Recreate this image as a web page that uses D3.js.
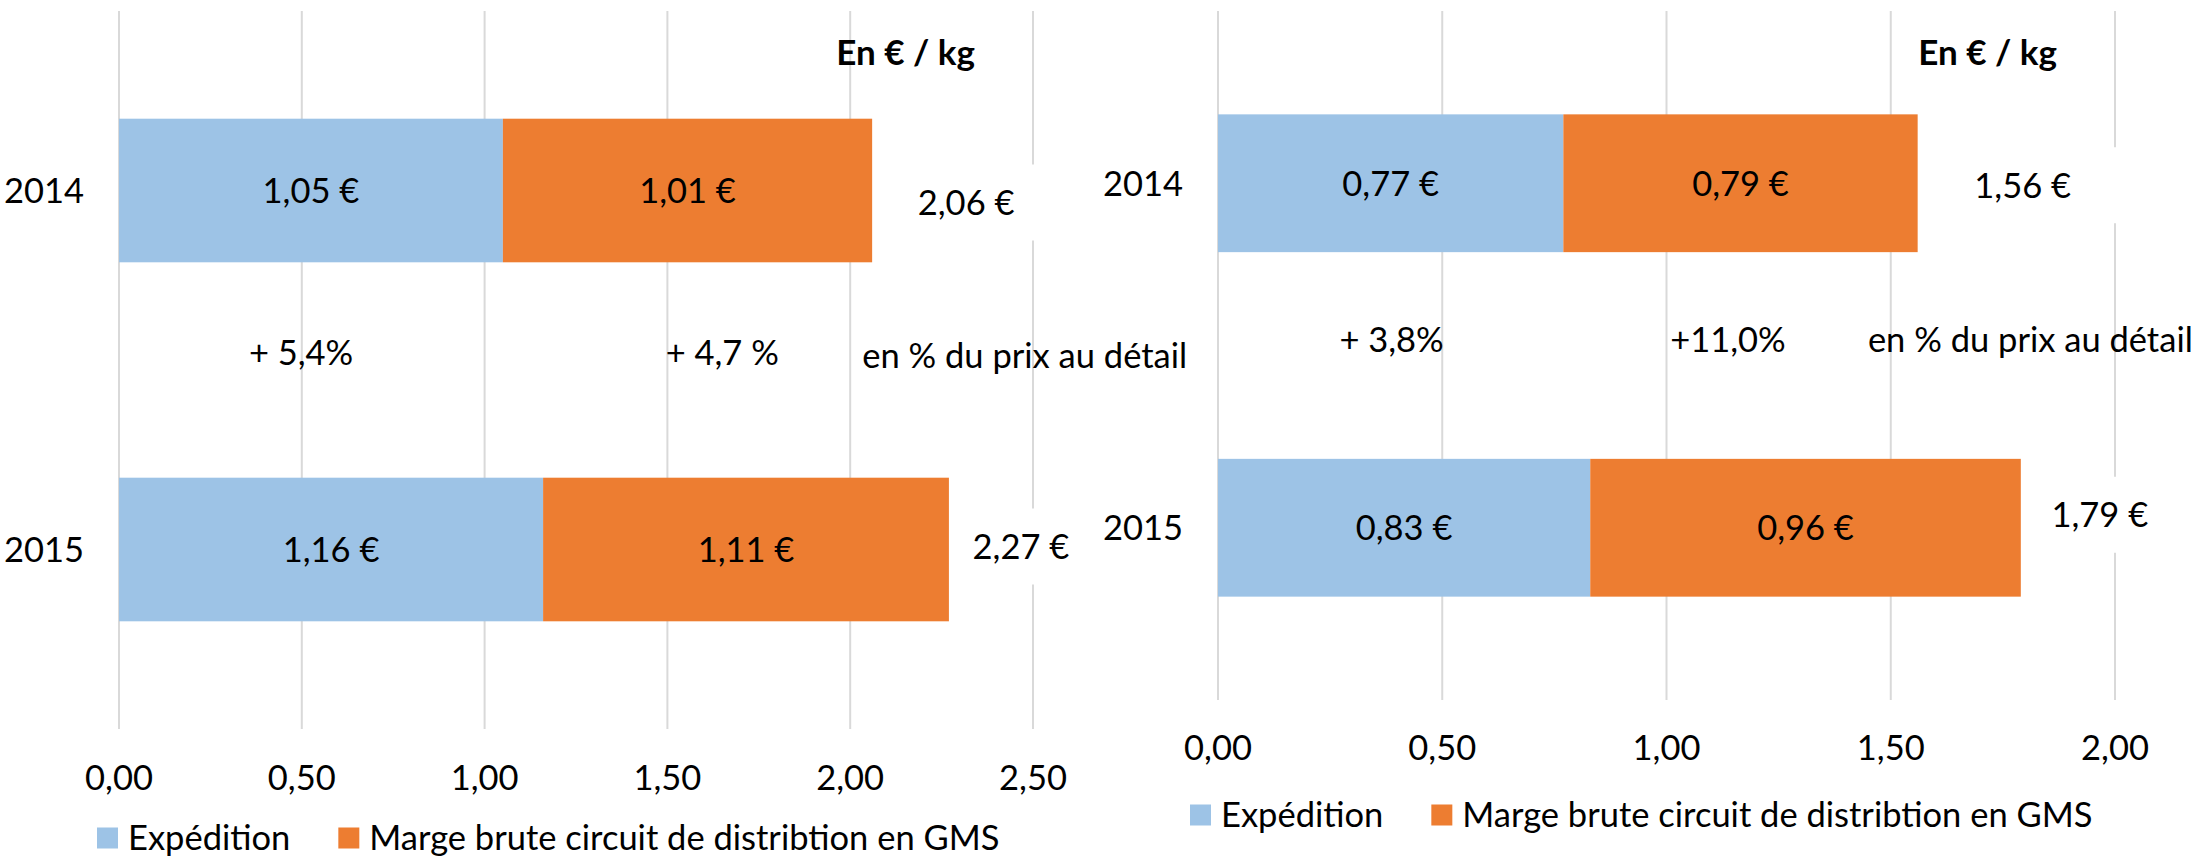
<!DOCTYPE html>
<html>
<head>
<meta charset="utf-8">
<script src="https://cdn.jsdelivr.net/npm/d3@7"></script>
<style>
  body { margin: 0; background: #fff; }
  text { font-family: Lato, sans-serif; fill: #000; }
</style>
</head>
<body>
<svg id="chart" width="2197" height="861"></svg>
<script>
// data
const years = ['2014', '2015'];
const seriesNames = ['Expédition', 'Marge brute circuit de distribtion en GMS'];

const leftExpedition = [1.05, 1.16];
const leftMarge = [1.01, 1.11];
const leftTotals = [2.06, 2.27];
const leftChanges = ['+ 5,4%', '+ 4,7 %'];
const leftTicks = [0, 0.5, 1, 1.5, 2, 2.5];

const rightExpedition = [0.77, 0.83];
const rightMarge = [0.79, 0.96];
const rightTotals = [1.56, 1.79];
const rightChanges = ['+ 3,8%', '+11,0%'];
const rightTicks = [0, 0.5, 1, 1.5, 2];

const unitLabel = 'En € / kg';
const noteLabel = 'en % du prix au détail';
const colors = ['#9dc3e6', '#ed7d31'];

const fr = d3.formatLocale({decimal: ',', thousands: ' ', grouping: [3], currency: ['', ' €']});
const tickFmt = fr.format('.2f');
const euro = v => tickFmt(v) + ' €';

const FS = 34.5;
const svg = d3.select('#chart');

// layout of each panel (pixels, plus anchors for the free text boxes in data units)
const panels = [
  {
    exp: leftExpedition, marge: leftMarge, totals: leftTotals, changes: leftChanges, ticks: leftTicks,
    x0: 119, x1: 1033, y0: 11, y1: 729, tickY: 778, legendY: 838, legendX: 97,
    changeAt: [0.498, 1.65], changeY: 353, noteAt: 2.033, noteY: 356,
    totalDx: [94, 72], totalDy: [12, -3]
  },
  {
    exp: rightExpedition, marge: rightMarge, totals: rightTotals, changes: rightChanges, ticks: rightTicks,
    x0: 1218, x1: 2115, y0: 11, y1: 700, tickY: 748, legendY: 815, legendX: 1190,
    changeAt: [0.387, 1.137], changeY: 340, noteAt: 1.449, noteY: 340,
    totalDx: [105, 79], totalDy: [2, -13]
  }
];

panels.forEach(drawPanel);

function drawPanel(p) {
  const g = svg.append('g');
  const x = d3.scaleLinear()
    .domain([0, d3.max(p.ticks)])
    .range([p.x0, p.x1]);
  const y = d3.scaleBand()
    .domain(years)
    .range([p.y0, p.y1])
    .paddingInner(0.6)
    .paddingOuter(0.3);

  // gridlines
  g.append('g')
    .selectAll('line')
    .data(p.ticks)
    .join('line')
    .attr('x1', d => x(d)).attr('x2', d => x(d))
    .attr('y1', p.y0).attr('y2', p.y1)
    .attr('stroke', '#d9d9d9')
    .attr('stroke-width', 2);

  // tick labels
  g.append('g')
    .selectAll('text')
    .data(p.ticks)
    .join('text')
    .attr('x', d => x(d))
    .attr('y', p.tickY)
    .attr('dy', '0.36em')
    .attr('text-anchor', 'middle')
    .style('font-size', FS + 'px')
    .text(d => tickFmt(d));

  // stacked bars
  const rows = years.map((yr, i) => ({yr, i, parts: [
    {start: 0, end: p.exp[i], v: p.exp[i], c: 0},
    {start: p.exp[i], end: p.exp[i] + p.marge[i], v: p.marge[i], c: 1}
  ]}));

  const segs = rows.flatMap(r => r.parts.map(s => Object.assign({yr: r.yr}, s)));

  g.append('g')
    .selectAll('rect')
    .data(segs)
    .join('rect')
    .attr('x', d => x(d.start))
    .attr('width', d => x(d.end) - x(d.start))
    .attr('y', d => y(d.yr))
    .attr('height', y.bandwidth())
    .attr('fill', d => colors[d.c]);

  g.append('g')
    .selectAll('text')
    .data(segs)
    .join('text')
    .attr('x', d => (x(d.start) + x(d.end)) / 2)
    .attr('y', d => y(d.yr) + y.bandwidth() / 2)
    .attr('dy', '0.36em')
    .attr('text-anchor', 'middle')
    .style('font-size', FS + 'px')
    .text(d => euro(d.v));

  // category labels
  g.append('g')
    .selectAll('text')
    .data(years)
    .join('text')
    .attr('x', p.x0 - 35)
    .attr('y', d => y(d) + y.bandwidth() / 2)
    .attr('dy', '0.36em')
    .attr('text-anchor', 'end')
    .style('font-size', FS + 'px')
    .text(d => d);

  // totals in white boxes
  const tot = g.append('g')
    .selectAll('g')
    .data(p.totals)
    .join('g')
    .attr('transform', (d, i) => 'translate(' + (x(d) + p.totalDx[i]) + ',' + (y(years[i]) + y.bandwidth() / 2 + p.totalDy[i]) + ')');
  tot.append('rect')
    .attr('x', -56).attr('width', 160)
    .attr('y', -38).attr('height', 76)
    .attr('fill', '#fff');
  tot.append('text')
    .attr('text-anchor', 'middle')
    .attr('dy', '0.36em')
    .style('font-size', FS + 'px')
    .text(d => euro(d));

  // change annotations
  g.append('g')
    .selectAll('text')
    .data(p.changes)
    .join('text')
    .attr('x', (d, i) => x(p.changeAt[i]))
    .attr('y', p.changeY)
    .attr('dy', '0.36em')
    .attr('text-anchor', 'middle')
    .style('font-size', FS + 'px')
    .text(d => d);

  g.append('text')
    .attr('x', x(p.noteAt))
    .attr('y', p.noteY)
    .attr('dy', '0.36em')
    .style('font-size', FS + 'px')
    .text(noteLabel);

  g.append('text')
    .attr('x', p.x1 - 58)
    .attr('y', 65)
    .attr('text-anchor', 'end')
    .style('font-size', '35px')
    .style('font-weight', 'bold')
    .text(unitLabel);

  // legend
  const leg = g.append('g').attr('transform', 'translate(' + p.legendX + ',' + p.legendY + ')');
  let lx = 0;
  seriesNames.forEach((name, i) => {
    leg.append('rect')
      .attr('x', lx).attr('y', -10.5)
      .attr('width', 21).attr('height', 21)
      .attr('fill', colors[i]);
    const t = leg.append('text')
      .attr('x', lx + 31)
      .attr('dy', '0.36em')
      .style('font-size', FS + 'px')
      .text(name);
    lx += 31 + t.node().getComputedTextLength() + 48;
  });
}
</script>
</body>
</html>
